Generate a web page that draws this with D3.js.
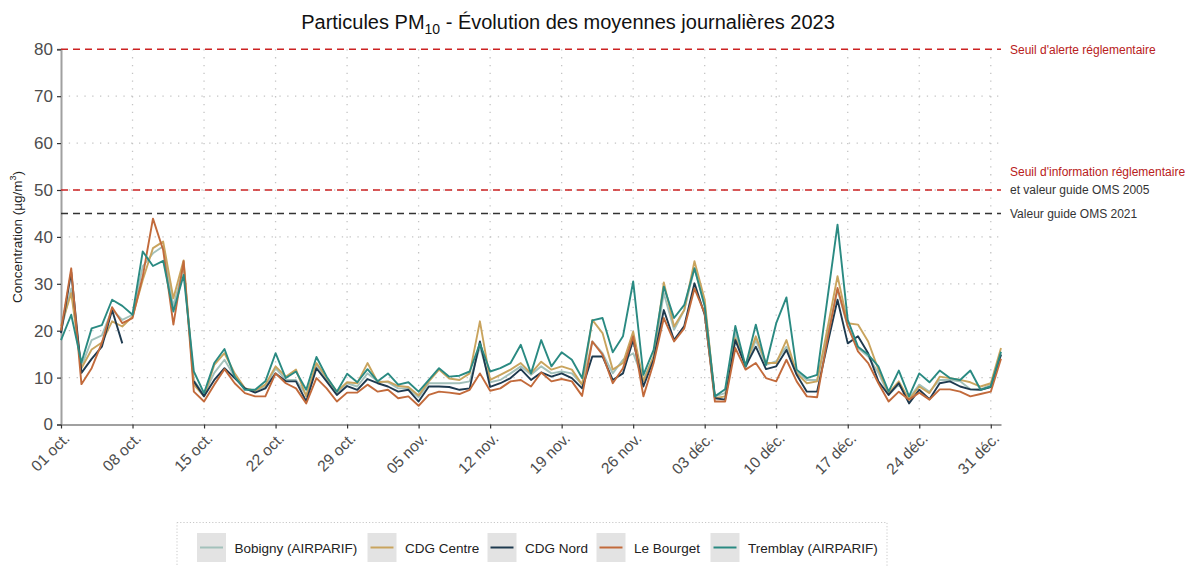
<!DOCTYPE html>
<html><head><meta charset="utf-8">
<script src="https://cdn.jsdelivr.net/npm/d3@7"></script>
<style>
body{margin:0;background:#fff;}
text{font-family:"Liberation Sans",Arial,Helvetica,sans-serif;}
</style>
</head><body>
<svg id="chart" width="1185" height="566"></svg>
<script>
// ---------- DATA ----------
const startDate = "2023-10-01";
const endDate = "2024-01-01";
const seriesNames = ["Bobigny (AIRPARIF)", "CDG Centre", "CDG Nord", "Le Bourget", "Tremblay (AIRPARIF)"];
const bobigny = [20,29,12.4,18,19,24.5,22.3,23.4,33.7,36.5,38,25.2,33.7,9.5,6.3,11,13.8,10.2,7.7,7.2,8.1,12,9.5,9.5,6.3,12.7,9.5,6.8,8.8,8.1,10.9,9.2,9,7.7,7.7,5.8,8.8,8.8,8.8,8.8,9.2,16.6,9,9.5,10.9,12.4,10.6,12.4,10.9,11.3,10.9,8.5,17.7,15.2,10.9,13.8,15.2,9.5,14.5,28,20.2,24.4,33.3,25.5,6,6.7,19.8,12,18,12.7,13.5,16.6,11.3,9.5,9.5,19,28.7,20.9,16.3,14.5,11,6.3,8.5,5.6,8.5,7,9.5,9.5,9.2,7.5,7.5,8.5,15];
const cdgCentre = [21,28,12,16,17.5,22,20.9,23,30.8,37.6,39,26.9,35,8.5,6,12.7,15.2,10.9,7.7,7.2,8.5,12.4,10.2,11.7,6,13.1,10,7,9,8.8,13.1,9,9.2,8.2,8,6.2,9.2,11.7,9.8,9.5,10.9,22,9.5,10.6,11.7,13.1,10.9,13.4,11.7,12.4,11.7,8.5,22.3,19.5,11.7,13.1,19.8,9.2,14.5,30.3,20.9,24.4,34.8,26.6,5.6,6,18.4,12.7,18.8,13.1,13.1,18,10.9,8.8,9.2,20.3,31.6,21.6,21.3,17.7,11.7,6.7,9.2,5.3,8.1,6.7,10.2,9.9,9.5,9,8.1,8.8,16.3];
const cdgNord = [19.5,32.5,11,14,16.6,24.4,17.3,null,null,null,null,null,null,9.2,6,9.5,12,9.9,7.7,6.8,7.7,10.9,9.2,9.2,4.9,12,9.2,6.3,8.2,7.4,9.7,8.8,8.1,7,7.4,4.9,8.1,8.1,8,7.4,7.7,17.7,8,8.8,9.9,11.8,9.5,11.1,10.2,10.9,9.9,7.7,14.5,14.5,9.5,10.9,18,8.1,13.8,24.4,18,21,30.1,23.4,5.6,5.3,18,12.4,16.6,11.8,12.4,15.9,10.6,7,7,17,26.6,17.3,18.8,15.2,9.2,6.3,8.8,4.5,7.4,5.4,8.8,9.2,8.1,7.5,7.4,8,14.9];
const leBourget = [20,33.3,8.6,12,17.4,25,21.6,22.7,31.6,43.9,37.2,21.3,34.8,7,4.9,8.5,11.8,8.8,6.7,6,6,10.9,8.8,7.7,4.5,9.9,7.7,4.9,6.8,6.8,8.5,7,7.4,5.6,6,4,6.3,7,6.8,6.5,7.4,10.9,7.2,7.7,9.2,9.5,8.1,11.1,9.2,9.7,9.2,6.1,17.7,14.9,8.8,12,18.8,6,13.1,22.7,17.7,20.5,29,23.7,4.9,4.9,16.3,11.7,13.1,9.9,9.2,13.8,9.2,6,5.8,18,29.1,21,15.6,13.1,8.8,4.9,7,5.3,6.8,5.3,7.5,7.5,7,6,6.5,7,14];
const tremblay = [18,23.4,13.2,20.5,21.2,26.6,25.3,23.4,36.9,33.8,34.9,24.1,31.9,11.3,6.7,13.1,16.1,10.2,7.4,7.4,9.2,15.2,9.9,11.3,7.4,14.4,10.2,7,10.8,9,11.8,9.2,10.9,8.5,9,7,9.5,12,10.2,10.4,11.3,17.3,11.3,12,13.1,17,10.9,18,12.4,15.4,13.8,9.9,22.2,22.7,15.4,18.8,30.5,10.6,15.9,29.4,22.7,25.5,33.3,25.2,6,7.5,21,12.4,21.3,12.7,21.6,27.1,11.7,9.9,10.6,26.6,42.6,22.3,16.6,14.9,12.4,7,11.5,6,10.9,9,11.5,9.9,9.5,11.5,7.4,8.1,15.5];
const yTicks = [0,10,20,30,40,50,60,70,80];
const xTickDates = ["2023-10-01","2023-10-08","2023-10-15","2023-10-22","2023-10-29","2023-11-05","2023-11-12","2023-11-19","2023-11-26","2023-12-03","2023-12-10","2023-12-17","2023-12-24","2023-12-31"];
const xTickLabels = ["01 oct.","08 oct.","15 oct.","22 oct.","29 oct.","05 nov.","12 nov.","19 nov.","26 nov.","03 déc.","10 déc.","17 déc.","24 déc.","31 déc."];
const thresholdValues = [80, 50, 45];
const thresholdLabels = [["Seuil d'alerte réglementaire"], ["Seuil d'information réglementaire","et valeur guide OMS 2005"], ["Valeur guide OMS 2021"]];

// ---------- STYLE ----------
const colors = ["#a3c1bb", "#c9a45e", "#1e3a4f", "#c26a3b", "#2a8a82"];
const thresholdColors = ["#cc2222", "#cc2222", "#333333"];
const labelColors = [["#b82020"], ["#b82020", "#333"], ["#333"]];
const seriesData = [bobigny, cdgCentre, cdgNord, leBourget, tremblay];

const svg = d3.select("#chart");
const parse = d3.timeParse("%Y-%m-%d");
const t0 = parse(startDate);
const dates = bobigny.map((_, i) => d3.timeDay.offset(t0, i));

const x = d3.scaleTime().domain([t0, parse(endDate)]).range([61, 1001]);
const y = d3.scaleLinear().domain([0, 80]).range([424.5, 49.3]);

// gridlines
const grid = svg.append("g");
grid.selectAll("line.h").data(yTicks.filter(v => v > 0 && v < 80)).enter().append("line")
  .attr("x1", 61).attr("x2", 1001).attr("y1", d => y(d)).attr("y2", d => y(d))
  .attr("stroke", "#c4c4c4").attr("stroke-width", 1.3).attr("stroke-dasharray", "1.3,6.5");
grid.selectAll("line.v").data(xTickDates.slice(1)).enter().append("line")
  .attr("x1", d => x(parse(d))).attr("x2", d => x(parse(d))).attr("y1", y(80)).attr("y2", y(0))
  .attr("stroke", "#c4c4c4").attr("stroke-width", 1.3).attr("stroke-dasharray", "1.3,6.5");

// axes
const yAxis = svg.append("g").attr("transform", "translate(61,0)")
  .call(d3.axisLeft(y).tickValues(yTicks).tickSize(4).tickPadding(4));
yAxis.select(".domain").attr("stroke", "#a0a0a0").attr("stroke-width", 2);
yAxis.selectAll(".tick line").attr("stroke", "#333").attr("stroke-width", 1.2);
yAxis.selectAll(".tick text").attr("font-size", 17).attr("fill", "#4d4d4d")
  .attr("font-family", "Liberation Sans, Arial, sans-serif");

const xAxis = svg.append("g").attr("transform", "translate(0,424.5)")
  .call(d3.axisBottom(x).tickValues(xTickDates.map(parse)).tickFormat((d, i) => xTickLabels[i]).tickSize(4).tickSizeOuter(0));
xAxis.select(".domain").attr("stroke", "#a0a0a0").attr("stroke-width", 2);
xAxis.selectAll(".tick line").attr("stroke", "#333").attr("stroke-width", 1.2);
xAxis.selectAll(".tick text").attr("font-size", 15.5).attr("fill", "#4d4d4d")
  .attr("font-family", "Liberation Sans, Arial, sans-serif")
  .attr("text-anchor", "end").attr("dy", null).attr("y", 0)
  .attr("transform", "translate(9,15) rotate(-45)");

// threshold lines
svg.append("g").selectAll("line").data(thresholdValues).enter().append("line")
  .attr("x1", 61).attr("x2", 1001).attr("y1", d => y(d)).attr("y2", d => y(d))
  .attr("stroke", (d, i) => thresholdColors[i]).attr("stroke-width", 1.6)
  .attr("stroke-dasharray", "7,5");

// threshold labels
const tl = svg.append("g").attr("font-size", 12);
thresholdValues.forEach((v, i) => {
  const lines = thresholdLabels[i];
  lines.forEach((txt, j) => {
    const off = lines.length === 2 ? (j === 0 ? -18 : 0) : 0;
    tl.append("text").attr("x", 1010).attr("y", y(v) + off).attr("dy", "0.35em")
      .attr("fill", labelColors[i][j]).text(txt);
  });
});

// series lines
const line = d3.line().defined(d => d.v != null).x(d => x(d.t)).y(d => y(d.v));
svg.append("g").selectAll("path").data(seriesData).enter().append("path")
  .attr("d", s => line(s.map((v, i) => ({ t: dates[i], v }))))
  .attr("fill", "none").attr("stroke", (d, i) => colors[i]).attr("stroke-width", 1.9)
  .attr("stroke-linejoin", "round");

// title
const title = svg.append("text").attr("x", 568).attr("y", 29).attr("text-anchor", "middle")
  .attr("font-size", 20).attr("fill", "#111");
title.append("tspan").text("Particules PM");
title.append("tspan").attr("font-size", 14).attr("dy", 5).text("10");
title.append("tspan").attr("dy", -5).text(" - Évolution des moyennes journalières 2023");

// y label
const yl = svg.append("text").attr("transform", "translate(22,237) rotate(-90)")
  .attr("text-anchor", "middle").attr("font-size", 13.5).attr("fill", "#222");
yl.append("tspan").text("Concentration (µg/m");
yl.append("tspan").attr("font-size", 9).attr("dy", -6).text("3");
yl.append("tspan").attr("dy", 6).text(")");

// legend
const lg = svg.append("g");
lg.append("rect").attr("x", 177).attr("y", 522.5).attr("width", 710).attr("height", 60)
  .attr("fill", "none").attr("stroke", "#c8c8c8").attr("stroke-dasharray", "1.2,2");
const keyX = [197, 367.5, 487.5, 596.5, 710.5];
seriesNames.forEach((n, i) => {
  lg.append("rect").attr("x", keyX[i]).attr("y", 533).attr("width", 29).attr("height", 29).attr("fill", "#e3e3e3");
  lg.append("line").attr("x1", keyX[i] + 3).attr("x2", keyX[i] + 26).attr("y1", 547.5).attr("y2", 547.5)
    .attr("stroke", colors[i]).attr("stroke-width", 2);
  lg.append("text").attr("x", keyX[i] + 37.5).attr("y", 548).attr("dy", "0.35em").attr("font-size", 13.5)
    .attr("fill", "#222").text(n);
});
</script>
</body></html>
